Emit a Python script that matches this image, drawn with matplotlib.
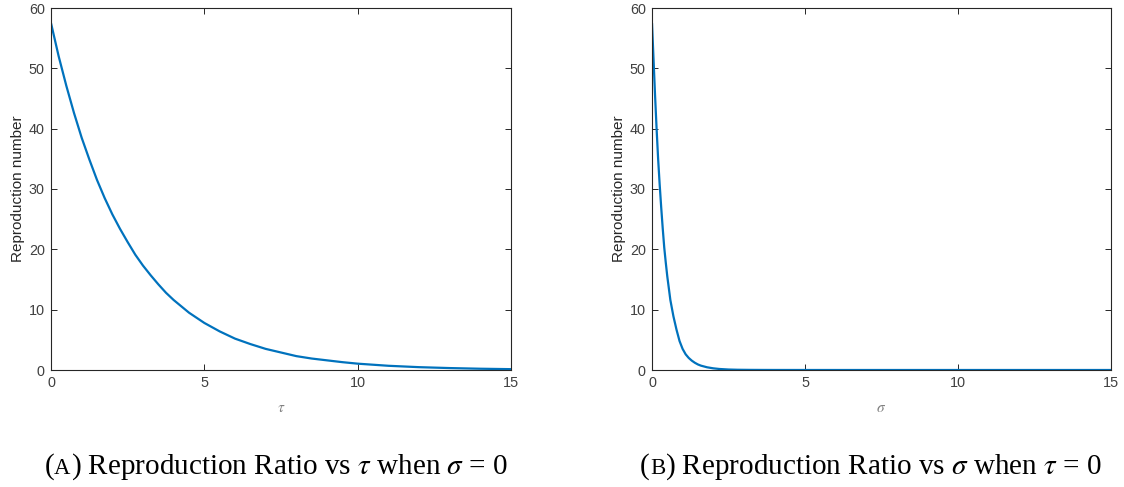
import matplotlib
matplotlib.use("Agg")
import matplotlib.pyplot as plt

# ---- data ----
tau = [0, 0.25, 0.5, 0.75, 1, 1.25, 1.5, 1.75, 2, 2.25, 2.5, 2.75, 3, 3.25, 3.5,
       3.75, 4, 4.5, 5, 5.5, 6, 6.5, 7, 7.5, 8, 8.5, 9, 9.5, 10, 11, 12, 13, 14, 15]
r_tau = [57.5, 52.0, 47.1, 42.6, 38.5, 34.9, 31.5, 28.5, 25.8, 23.4, 21.2, 19.1,
         17.3, 15.7, 14.2, 12.8, 11.6, 9.5, 7.8, 6.4, 5.2, 4.3, 3.5, 2.9, 2.3, 1.9,
         1.6, 1.3, 1.05, 0.7, 0.47, 0.32, 0.21, 0.14]

sigma = [0, 0.05, 0.1, 0.15, 0.2, 0.25, 0.3, 0.35, 0.4, 0.45, 0.5, 0.6, 0.7, 0.8,
         0.9, 1.0, 1.1, 1.2, 1.3, 1.4, 1.5, 1.6, 1.8, 2.0, 2.2, 2.5, 2.8, 3.2, 3.6,
         4, 5, 6, 8, 10, 12, 15]
r_sigma = [57.5, 51.5, 45.5, 40, 35, 30.8, 27, 23.5, 20.3, 17.8, 15.5, 11.6, 8.9,
           6.7, 4.8, 3.5, 2.6, 2.0, 1.55, 1.2, 0.92, 0.72, 0.45, 0.28, 0.17, 0.08,
           0.04, 0.02, 0.01, 0.005, 0.001, 0, 0, 0, 0, 0]

xticks = [0, 5, 10, 15]
yticks = [0, 10, 20, 30, 40, 50, 60]

W, H = 1124, 487
fig = plt.figure(figsize=(W / 100, H / 100), dpi=100)
fig.patch.set_facecolor("white")

line_col = "#0072BD"
ax_col = "#262626"
lab_col = "#404040"
sans = ["Liberation Sans", "DejaVu Sans"]

def px_box(x0, x1, ytop, ybot):
    return [x0 / W, (H - ybot) / H, (x1 - x0) / W, (ybot - ytop) / H]

panels = [
    (px_box(51, 511, 8, 370), tau, r_tau, r"$\tau$"),
    (px_box(652, 1111, 8, 370), sigma, r_sigma, r"$\sigma$"),
]

plt.rcParams["mathtext.fontset"] = "stix"

for rect, xs, ys, xl in panels:
    ax = fig.add_axes(rect)
    ax.plot(xs, ys, color=line_col, lw=1.6, solid_capstyle="butt")
    ax.set_xlim(0, 15)
    ax.set_ylim(0, 60)
    ax.set_xticks(xticks)
    ax.set_yticks(yticks)
    ax.tick_params(direction="in", top=True, right=True, length=4, width=0.7,
                   colors=ax_col, labelcolor=lab_col, labelsize=10.4, pad=4.5)
    for lab in ax.get_xticklabels() + ax.get_yticklabels():
        lab.set_family(sans)
    for s in ax.spines.values():
        s.set_color(ax_col)
        s.set_linewidth(0.8)
    ax.set_ylabel("Reproduction number", fontsize=11, color=ax_col,
                  family=sans, labelpad=3)
    ax.set_xlabel(xl, fontsize=11, color="#808080", labelpad=7)

# ---- captions with small-caps letters ----
serif = ["Liberation Serif", "DejaVu Serif"]
fs = 21
base_y = (H - 474) / H

def caption(letter, rest, center_px):
    fig.canvas.draw()
    r = fig.canvas.get_renderer()
    parts = [("(", fs), (letter, fs * 0.78), (rest, fs)]
    texts = []
    for s, f in parts:
        t = fig.text(0, base_y, s, fontsize=f, family=serif, va="baseline",
                     ha="left", color="black")
        texts.append(t)
    widths = [t.get_window_extent(r).width for t in texts]
    total = sum(widths)
    x = center_px - total / 2
    for t, w in zip(texts, widths):
        t.set_x(x / W)
        x += w

caption("A", r") Reproduction Ratio vs $\tau$ when $\sigma$ = 0", 276)
caption("B", r") Reproduction Ratio vs $\sigma$ when $\tau$ = 0", 871)

fig.savefig("out.png", dpi=100, facecolor="white")
